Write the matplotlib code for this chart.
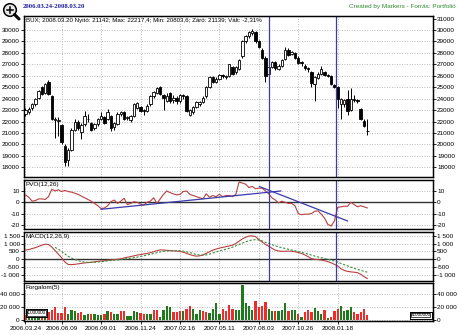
import matplotlib
matplotlib.use("Agg")
import matplotlib.pyplot as plt
from matplotlib.patches import Circle, Rectangle
import numpy as np

plt.rcParams['font.family'] = ['Liberation Sans', 'DejaVu Sans']

W, H = 458, 335

# ---- data -------------------------------------------------------------
date_labels = ["2006.03.24", "2006.06.09", "2006.09.01", "2006.11.24", "2007.02.16",
               "2007.05.11", "2007.08.03", "2007.10.26", "2008.01.18"]
date_weeks = [0, 11, 23, 35, 47, 59, 71, 83, 95]

opens = [22700, 22800, 23200, 23500, 24100, 25000, 24500, 25500, 24250, 22100,
         22050, 21700, 19850, 18650, 19550, 21300, 21950, 21100, 21750, 22200,
         21900, 21450, 21750, 22200, 22400, 22200, 22500, 21500, 21800, 22700,
         22800, 22300, 22100, 22500, 23200, 23300, 23000, 22900, 23500, 24200,
         24500, 25000, 24300, 23800, 24500, 23900, 24100, 23800, 24300, 24200,
         22600, 22800, 23300, 23500, 23700, 24200, 25000, 25900, 25500, 25700,
         26100, 25900, 26000, 26800, 26300, 26600, 27700, 29000, 29500, 29700,
         29800, 29000, 28300, 27600, 26200, 26800, 27200, 26600, 26900, 27500,
         28300, 27900, 28000, 27600, 27200, 26900, 26700, 26300, 25300, 25800,
         26200, 26300, 26100, 26000, 25200, 25000, 23500, 23500, 24000, 23000,
         24000, 23900, 23100, 22050, 21142]
closes = [23000, 23100, 23500, 24000, 24700, 24400, 25300, 24400, 22200, 22200,
          22150, 20200, 18500, 19550, 21300, 21950, 21450, 21700, 22500, 22250,
          21300, 21750, 22200, 22500, 21900, 22800, 21400, 21900, 22700, 22800,
          22200, 22400, 22500, 23500, 23600, 22900, 22900, 23400, 24200, 24600,
          24900, 24400, 24100, 24200, 23800, 24100, 23800, 24300, 24200, 22900,
          23000, 23300, 23700, 23700, 24100, 25000, 25900, 25500, 25700, 26100,
          26000, 26000, 27000, 26200, 26800, 27400, 29000, 29500, 29800, 29900,
          29000, 28500, 27600, 26000, 26800, 27200, 26700, 26900, 27400, 28300,
          27800, 28100, 27600, 27100, 27100, 26700, 26600, 25400, 25900, 26200,
          26600, 26100, 26000, 25300, 25000, 24000, 24000, 23900, 22900, 24000,
          23900, 23800, 22200, 21600, 21139]
highs = [23200, 23300, 23600, 24100, 24800, 25100, 25400, 25600, 24300, 22400,
         22400, 21800, 20000, 19700, 21400, 22200, 22100, 21900, 22900, 22700,
         22000, 21900, 22300, 22800, 22500, 23100, 22600, 22000, 22800, 22900,
         22900, 22500, 22600, 23600, 23700, 23400, 23100, 23500, 24300, 24700,
         25000, 25100, 24400, 24500, 24600, 24300, 24200, 24400, 24400, 24300,
         23100, 23400, 23800, 23800, 24200, 25100, 26000, 26000, 25900, 26200,
         26200, 26100, 27000, 26900, 26900, 27500, 29100, 29600, 29900, 30100,
         29900, 29100, 28400, 27700, 26900, 27300, 27300, 27000, 27500, 28500,
         28400, 28200, 28100, 27700, 27300, 27000, 26800, 26400, 26000, 26300,
         26900, 26400, 26200, 26100, 25300, 25100, 24100, 24000, 24800, 24900,
         24300, 24000, 23200, 22200, 22217.4]
lows = [22500, 22700, 23000, 23400, 24000, 24300, 24400, 24300, 22100, 20600,
        20700, 20000, 18100, 18100, 19400, 21200, 21300, 20500, 21600, 22000,
        21200, 21300, 21600, 22100, 21800, 22100, 21200, 21300, 21700, 22500,
        22100, 22100, 22000, 22400, 23100, 22800, 22600, 22800, 23400, 24100,
        24400, 24300, 23000, 23700, 23600, 23600, 23500, 23600, 24000, 22800,
        22500, 22700, 23200, 23400, 23600, 24100, 24900, 25400, 25400, 25600,
        25800, 25700, 25900, 26100, 26200, 26500, 27600, 28900, 29300, 29600,
        28900, 28400, 27500, 25500, 25700, 26700, 26500, 26500, 26800, 27400,
        27700, 27800, 27500, 27000, 26900, 26500, 26300, 25000, 23800, 25700,
        26100, 26000, 25900, 25200, 24900, 23200, 22200, 23300, 22600, 22900,
        23700, 23600, 22100, 21500, 20803.6]

volume = [8000, 7000, 9000, 6000, 8000, 10000, 11000, 13000, 15400, 20500,
          11000, 11000, 20000, 9200, 15400, 14000, 11000, 12800, 7700, 9200,
          9000, 8700, 7700, 7200, 9200, 14000, 12800, 10000, 9200, 14000,
          14000, 6100, 6100, 14000, 12800, 11000, 9200, 9200, 10000, 15400,
          15400, 4100, 15400, 21500, 19500, 12800, 12800, 14000, 14000, 16400,
          21500, 16400, 8700, 15400, 14000, 12800, 11000, 16400, 25600, 9200,
          16400, 14000, 23000, 17000, 15400, 15400, 53800, 25600, 21500, 15400,
          29700, 19500, 21500, 27700, 17000, 14000, 14000, 14000, 15400, 25600,
          14000, 15400, 15400, 9200, 4100, 12800, 15400, 12800, 18400, 14000,
          10000, 15400, 2600, 5100, 14000, 16400, 21500, 14400, 15400, 19500,
          11800, 9200, 12800, 16400, 7700]
# g = rising week, r = falling week (bar colour in the volume pane)
volume_dir = list(
    "rggggrgr" "rrrrr" "ggg" "rr" "gg" "r" "ggg" "r" "g" "r" "gg" "rr" "gggg"
    "rr" "gg" "rr" "gggg" "rrr" "g" "rr" "ggg" "rr" "gggg" "rrr" "r" "gggggg"
    "rrrr" "gg" "r" "ggg" "r" "gg" "r" "g" "rrr" "ggg" "r" "g" "rrr" "gggg" "rrrrr")

pvo = [6.5, 4.5, 1, 1.5, 3, 3, 2.5, 5, 11.5, 10,
       11, 9.5, 10.5, 9.5, 9, 8, 7, 5.5, 4, 2.5,
       1, -1, -3, -5.5, -5, -3, 0.5, 2, -1, 1,
       3.5, -2, -1, 0.5, 0, -1.5, -2.5, 0, 1, 4,
       -1, 3, 7, 10, 8.5, 7.5, 6.5, 7, 9.5, 10,
       7, 6, 5, 4, 3, 7.5, 4.5, 6, 5, 7,
       5, 6, 6, 5, 7, 18, 17, 16, 13, 14,
       12, 12.5, 12.5, 10, 7.5, 4, 2, -0.5, 1, 0,
       -1, -1, -3, -10, -11, -10.5, -10.5, -10, -8, -7.5,
       -10.5, -14, -19.5, -21, -16.5, -4.5, -4, -3.5, -3.5, 0,
       -2, -4, -3, -4, -5]

macd = [590, 620, 680, 740, 820, 900, 960, 940, 780, 560,
        330, 100, -180, -330, -340, -320, -290, -260, -230, -210,
        -190, -160, -130, -110, -90, -60, -40, -20, 0, 30,
        80, 130, 170, 220, 270, 300, 340, 370, 420, 480,
        550, 600, 590, 570, 550, 540, 520, 500, 450, 380,
        300, 240, 200, 220, 280, 380, 480, 590, 650, 710,
        760, 800, 850, 900, 1000, 1150, 1300, 1400, 1480, 1490,
        1440, 1260, 1100, 950, 830, 700, 580, 530, 510, 510,
        520, 510, 480, 430, 370, 280, 170, 40, 0, -20,
        -50, -90, -150, -220, -320, -420, -600, -710, -770, -800,
        -820, -850, -950, -1100, -1220]

signal_start = 9
signal = [760, 640, 500, 340, 190, 80, -10, -80, -140, -180,
          -200, -200, -190, -170, -150, -130, -100, -80, -60, -40,
          -20, 10, 40, 70, 110, 140, 180, 220, 270, 320,
          370, 420, 470, 510, 530, 540, 545, 545, 540, 520,
          480, 430, 370, 310, 270, 260, 280, 330, 400, 470,
          530, 590, 640, 700, 770, 860, 950, 1030, 1110, 1180,
          1230, 1250, 1230, 1170, 1080, 1000, 930, 860, 800, 740,
          690, 640, 590, 540, 490, 440, 390, 330, 270, 210,
          150, 100, 50, 0, -50, -110, -180, -260, -340, -420,
          -500, -570, -640, -700, -760, -820]

# manually drawn trend lines on the PVO pane (week, value)
pvo_trend_1 = ([23, 77.7], [-6.2, 10])
pvo_trend_2 = ([71.2, 98], [13.9, -16.5])
# marker lines (week)
marker_weeks = [74.2, 94.4]

# ---- styling ----------------------------------------------------------
RED = '#EE2C2C'
GREEN = '#1D7A1D'
BLUE = '#3A3AAE'
LINE_RED = '#B8403F'
SIG_GREEN = '#3C8C3C'
GRID = '#B4B4B4'
FS = 4.6

fig = plt.figure(figsize=(W / 100, H / 100), dpi=100)
fig.patch.set_facecolor('white')

XL, XR = 24, 433
XLIM = (-0.45, 124.0)


def add_panel(top, bottom):
    return fig.add_axes([XL / W, 1 - bottom / H, (XR - XL) / W, (bottom - top) / H])


def fx(x, y):
    return x / W, 1 - y / H


def style_panel(ax, yticks, ylabels, ylim, rticks=None, rlabels=None):
    ax.set_xlim(*XLIM)
    ax.set_ylim(*ylim)
    ax.set_yticks(yticks)
    ax.set_yticklabels(ylabels)
    ax.set_xticks(date_weeks)
    ax.tick_params(axis='both', labelsize=FS, length=2, width=0.6, pad=1, colors='black')
    ax.tick_params(axis='x', labelbottom=False, length=0)
    ax.grid(True, color=GRID, linestyle=(0, (1.2, 1.8)), linewidth=0.6)
    ax.set_axisbelow(True)
    for s in ax.spines.values():
        s.set_linewidth(0.9)
        s.set_color('black')
    rx = ax.twinx()
    rx.set_ylim(*ylim)
    rx.set_yticks(rticks if rticks is not None else yticks)
    rx.set_yticklabels(rlabels if rlabels is not None else ylabels)
    rx.tick_params(axis='y', labelsize=FS, length=2, width=0.6, pad=1)
    for s in rx.spines.values():
        s.set_linewidth(0.9)
    return rx


n = len(closes)
wk = np.arange(n)

# ---- price pane -------------------------------------------------------
ax = add_panel(16, 177)
main_ticks = list(range(18000, 31000, 1000))
right_ticks = list(range(18000, 32000, 1000))
style_panel(ax, main_ticks, [str(t) for t in main_ticks], (17150, 31230),
            right_ticks, [str(t) for t in right_ticks])
ax.vlines(wk, lows, highs, color='black', linewidth=0.7, zorder=3)
o = np.array(opens, dtype=float)
c = np.array(closes, dtype=float)
body_lo = np.minimum(o, c)
body_h = np.maximum(np.abs(c - o), 30)
face = ['white' if cc >= oo else 'black' for oo, cc in zip(o, c)]
ax.bar(wk, body_h, bottom=body_lo, width=0.75, color=face, edgecolor='black',
       linewidth=0.6, zorder=4)
for m in marker_weeks:
    ax.axvline(m, color=BLUE, linewidth=0.9, zorder=5)
ax.text(0.005, 0.985, "BUX; 2008.03.20 Nyitó: 21142; Max: 22217,4; Min: 20803,6; Záró: 21139; Vált: -2,31%",
        transform=ax.transAxes, fontsize=4.4, va='top', ha='left', zorder=6,
        bbox=dict(facecolor='white', edgecolor='none', pad=0.3))

# ---- PVO pane ---------------------------------------------------------
ax2 = add_panel(180, 229)
style_panel(ax2, [10, 0, -10, -20], ['10', '0', '-10', '-20'], (-23.6, 19.7))
ax2.axhline(0, color='#333333', linewidth=1.0, zorder=2)
ax2.plot(wk, pvo, color=LINE_RED, linewidth=0.8, zorder=3)
ax2.plot(*pvo_trend_1, color=BLUE, linewidth=0.9, zorder=4)
ax2.plot(*pvo_trend_2, color=BLUE, linewidth=0.9, zorder=4)
for m in marker_weeks:
    ax2.axvline(m, color=BLUE, linewidth=0.9, zorder=5)
ax2.text(0.003, 0.96, "PVO(12,26)", transform=ax2.transAxes, fontsize=FS,
         va='top', ha='left', zorder=6, bbox=dict(facecolor='white', edgecolor='none', pad=0.3))

# ---- MACD pane --------------------------------------------------------
ax3 = add_panel(232, 281)
mt = [1500, 1000, 500, 0, -500, -1000]
ml = ['1 500', '1 000', '500', '0', '-500', '-1 000']
style_panel(ax3, mt, ml, (-1380, 1736))
ax3.axhline(0, color='#333333', linewidth=1.0, zorder=2)
ax3.plot(wk, macd, color=LINE_RED, linewidth=0.8, zorder=3)
ax3.plot(wk[signal_start:], signal, color=SIG_GREEN, linewidth=0.8,
         linestyle=(0, (2, 1.5)), zorder=3)
for m in marker_weeks:
    ax3.axvline(m, color=BLUE, linewidth=0.9, zorder=5)
ax3.text(0.003, 0.96, "MACD(12,26,9)", transform=ax3.transAxes, fontsize=FS,
         va='top', ha='left', zorder=6, bbox=dict(facecolor='white', edgecolor='none', pad=0.3))

# ---- volume pane ------------------------------------------------------
ax4 = add_panel(283, 321)
style_panel(ax4, [40000, 20000, 0], ['40 000', '20 000', '0'], (-1500, 57000))
vcol = [GREEN if d == 'g' else RED for d in volume_dir]
ax4.bar(wk, volume, width=0.7, color=vcol, edgecolor='none', zorder=3)
ax4.tick_params(axis='x', labelbottom=True, length=2, labelsize=FS, pad=1.5)
ax4.set_xticklabels(date_labels)
ax4.text(0.003, 0.95, "Forgalom(5)", transform=ax4.transAxes, fontsize=FS,
         va='top', ha='left', zorder=6, bbox=dict(facecolor='white', edgecolor='none', pad=0.3))


def unit_box(x0, y0, x1, y1):
    bx = fig.add_axes([x0 / W, 1 - y1 / H, (x1 - x0) / W, (y1 - y0) / H])
    bx.set_xlim(0, 1)
    bx.set_ylim(0, 1)
    bx.set_xticks([])
    bx.set_yticks([])
    bx.set_facecolor('white')
    for s in bx.spines.values():
        s.set_linewidth(0.7)
    bx.add_patch(Rectangle((0.06, 0.15), 0.88, 0.7, fill=False, linewidth=0.5,
                           edgecolor='black'))
    bx.text(0.5, 0.5, "x1000000", fontsize=3.4, ha='center', va='center')


unit_box(26, 309, 47, 317)
unit_box(410, 311.5, 431.5, 318.5)

# ---- header -----------------------------------------------------------
fig.text(*fx(23, 6), "2006.03.24-2008.03.20", fontsize=4.8, color='#1C1CA0',
         fontweight='bold', family=['Liberation Serif', 'DejaVu Serif'], va='center', ha='left')
fig.text(*fx(456, 6.5), "Created by Markers - Forrás: Portfolió", fontsize=4.6,
         color='#2E8B2E', va='center', ha='right')

# magnifier icon
ic = fig.add_axes([1 / W, 1 - 21 / H, 20 / W, 20 / H])
ic.set_xlim(0, 20)
ic.set_ylim(20, 0)
ic.set_aspect('equal')
ic.axis('off')
ic.plot([13.5, 18], [13.5, 18], color='black', linewidth=2.2, solid_capstyle='round')
ic.add_patch(Circle((9, 9), 6.3, facecolor='#E8E8E8', edgecolor='black', linewidth=1.1))
ic.plot([6, 12], [9, 9], color='black', linewidth=1.1)
ic.plot([9, 9], [6, 12], color='black', linewidth=1.1)

fig.savefig("out.png", dpi=100, facecolor='white')
